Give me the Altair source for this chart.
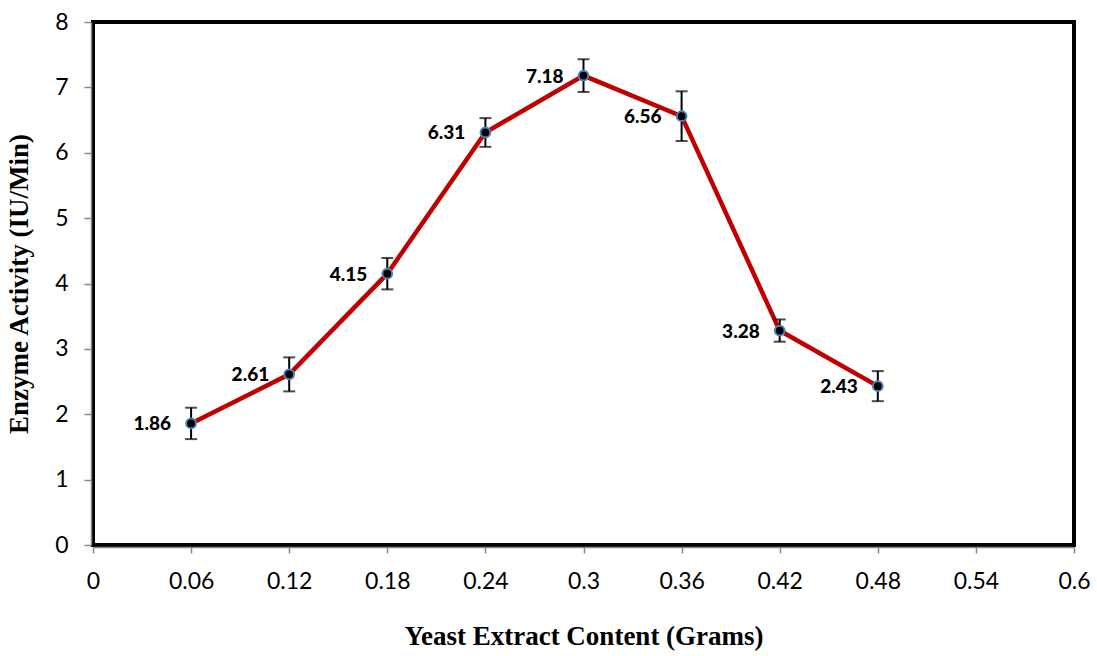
import altair as alt
import pandas as pd

content = [0.06, 0.12, 0.18, 0.24, 0.30, 0.36, 0.42, 0.48]
activity = [1.86, 2.61, 4.15, 6.31, 7.18, 6.56, 3.28, 2.43]
err = [0.24, 0.26, 0.24, 0.22, 0.25, 0.38, 0.17, 0.23]
labels = ["1.86", "2.61", "4.15", "6.31", "7.18", "6.56", "3.28", "2.43"]
x_ticks = [0, 0.06, 0.12, 0.18, 0.24, 0.3, 0.36, 0.42, 0.48, 0.54, 0.6]
y_ticks = [0, 1, 2, 3, 4, 5, 6, 7, 8]

df = pd.DataFrame({
    "x": content,
    "y": activity,
    "lo": [a - e for a, e in zip(activity, err)],
    "hi": [a + e for a, e in zip(activity, err)],
    "label": labels,
})

tick_font = "Lato"
xscale = alt.Scale(domain=[0, 0.6], nice=False, zero=False)
yscale = alt.Scale(domain=[0, 8], nice=False)

xaxis = alt.Axis(values=x_ticks, labelExpr="format(datum.value, '.2~f')",
                 title="Yeast Extract Content (Grams)", grid=False, tickColor="#888888",
                 domainColor="#888888", domainWidth=1.5, tickWidth=1.5, tickSize=6, offset=2,
                 labelFont=tick_font, labelFontSize=23, labelColor="black", labelPadding=17,
                 titleFont="Liberation Serif", titleFontSize=27, titleFontWeight="bold",
                 titleColor="black", titlePadding=30, labelFlush=False)
yaxis = alt.Axis(values=y_ticks, format="d", title="Enzyme Activity (IU/Min)", grid=False,
                 tickColor="#888888",
                 domainColor="#888888", domainWidth=1.5, tickWidth=1.5, tickSize=7, offset=2,
                 labelFont=tick_font, labelFontSize=23, labelColor="black", labelPadding=16,
                 titleFont="Liberation Serif", titleFontSize=27, titleFontWeight="bold",
                 titleColor="black", titlePadding=21, labelFlush=False)

base = alt.Chart(df)

line = base.mark_line(color="#C00000", strokeWidth=4.5).encode(
    x=alt.X("x:Q", scale=xscale, axis=xaxis),
    y=alt.Y("y:Q", scale=yscale, axis=yaxis),
)

rules = base.mark_rule(color="black", strokeWidth=2).encode(
    x="x:Q", y="lo:Q", y2="hi:Q"
)
cap_lo = base.mark_tick(color="black", thickness=2, size=12, orient="horizontal").encode(x="x:Q", y="lo:Q")
cap_hi = base.mark_tick(color="black", thickness=2, size=12, orient="horizontal").encode(x="x:Q", y="hi:Q")

points = base.mark_point(filled=True, fill="black", stroke="#4F81BD", strokeWidth=2,
                         size=95, opacity=1, fillOpacity=1).encode(x="x:Q", y="y:Q")

text = base.mark_text(align="right", baseline="middle", dx=-20, dy=1, font="Lato",
                      fontSize=19, fontWeight=900, color="black").encode(
    x="x:Q", y="y:Q", text="label:N")

chart = alt.layer(line, rules, cap_lo, cap_hi, points, text).properties(
    width=981, height=523,
    autosize=alt.AutoSizeParams(type="none"),
    padding={"left": 93, "top": 22, "right": 23, "bottom": 111},
    background="white",
).configure_view(stroke="black", strokeWidth=4)

chart.save("out.html", embed_options={"renderer": "svg", "actions": False})
